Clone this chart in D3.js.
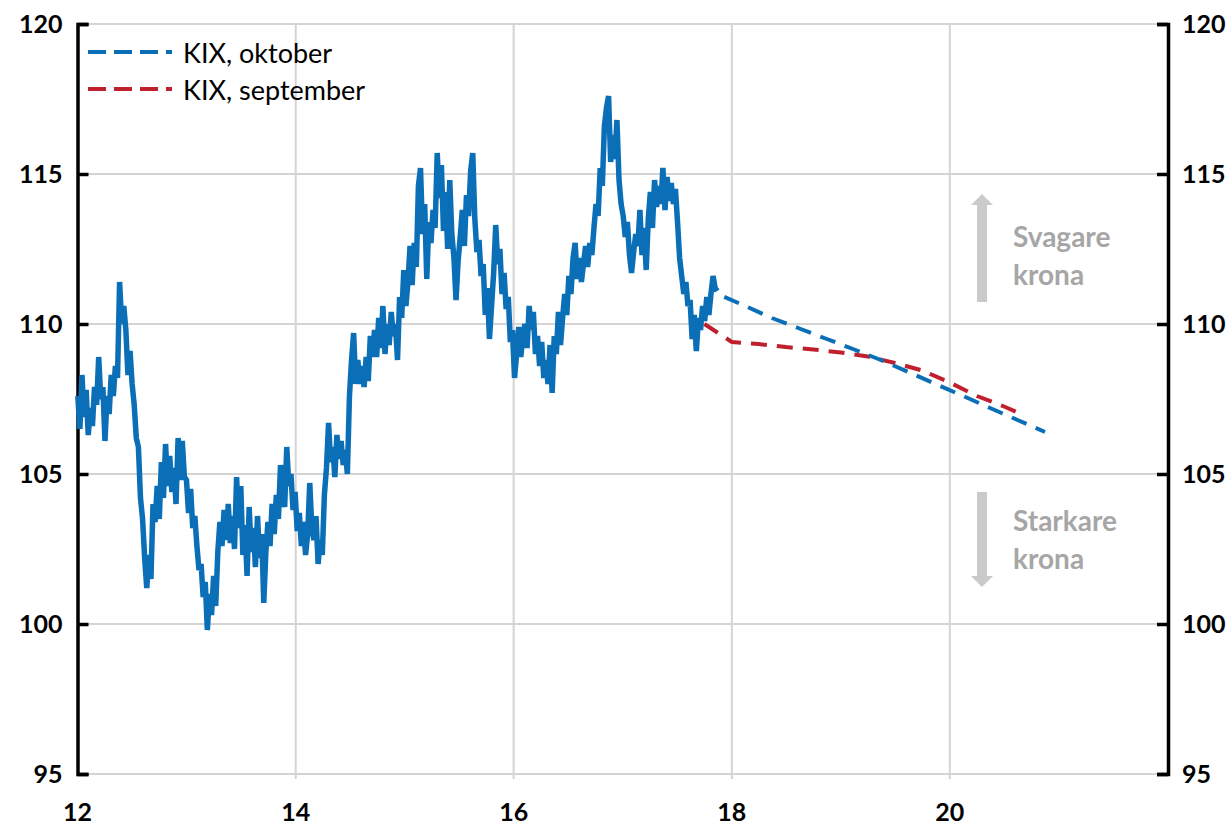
<!DOCTYPE html>
<html>
<head>
<meta charset="utf-8">
<script src="https://cdn.jsdelivr.net/npm/d3@7"></script>
<style>
  html, body { margin: 0; padding: 0; background: #ffffff; }
  svg { display: block; }
</style>
</head>
<body>
<svg id="chart" width="1232" height="825"></svg>
<script>
// ---------------- DATA ----------------
// Weekly KIX index, starting first week of 2012
const kixStart = "2012-01-02";
const kixValues = [
  107.6,106.5,108.3,106.9,107.8,106.3,107.2,106.6,107.9,107.3,
  108.9,107.5,107.9,106.1,107.6,107.0,108.3,107.6,108.6,108.2,
  111.4,110.0,110.6,109.8,108.3,109.1,108.0,107.3,106.2,105.9,
  104.2,103.5,102.2,101.2,102.3,101.5,104.0,103.4,104.6,103.5,
  105.4,104.2,106.0,104.6,105.6,104.4,105.2,104.0,106.2,104.8,
  106.1,104.9,104.8,103.7,104.5,103.2,103.6,102.6,101.8,102.0,
  100.9,101.4,99.8,101.0,100.3,101.6,100.6,102.4,103.4,102.6,
  103.8,102.8,104.0,102.7,103.6,102.5,104.9,103.2,104.6,102.3,
  103.3,101.6,103.9,102.4,103.2,101.9,103.6,102.2,103.0,100.7,
  102.4,103.4,102.6,104.0,103.0,104.3,103.5,105.3,104.2,103.9,
  105.9,104.6,105.0,103.8,104.4,103.1,103.7,102.6,103.4,102.3,
  103.0,104.7,103.2,102.8,103.6,102.0,102.8,102.3,104.3,105.2,
  106.7,105.4,105.9,104.9,106.3,105.5,106.1,105.3,105.8,105.0,
  107.6,108.8,109.7,108.0,108.8,108.0,108.6,107.9,108.9,108.1,
  109.6,108.9,109.8,108.9,110.2,109.2,110.6,109.0,110.0,109.3,
  110.4,109.6,110.0,108.8,110.9,110.2,111.8,110.6,111.4,112.6,
  111.3,112.7,111.9,114.6,115.2,113.0,114.0,111.5,113.4,112.7,
  113.8,113.2,115.7,114.2,115.3,113.1,114.4,112.5,114.8,113.0,
  112.2,110.8,112.1,112.9,113.8,112.6,114.3,113.6,115.1,115.7,
  113.5,112.4,112.8,111.6,112.0,110.3,111.2,109.5,110.6,111.7,
  113.3,112.0,112.5,111.0,111.7,110.5,110.9,109.4,109.8,108.2,
  109.0,109.9,108.9,109.6,110.0,109.2,110.6,109.8,110.4,109.0,
  109.6,108.6,109.4,108.2,108.8,108.0,109.3,107.7,109.6,
  109.0,110.4,109.3,110.2,111.0,110.3,111.6,111.0,112.2,112.7,
  111.5,112.2,111.4,112.0,112.6,111.9,112.7,112.3,113.2,
  114.0,113.6,115.2,114.6,116.6,117.2,117.6,115.4,116.3,115.5,
  116.8,114.8,114.0,113.6,112.9,113.4,112.3,111.7,112.4,113.0,
  112.6,113.8,112.3,113.2,111.8,113.5,114.4,113.2,114.8,113.9,
  114.6,114.0,115.2,113.8,114.9,114.1,114.7,114.0,114.5,113.4,
  112.2,111.6,111.0,111.4,110.6,110.8,109.5,110.3,109.1,110.2,
  109.8,110.6,110.1,110.9,110.3,111.0,111.6,111.2,111.1
];

// KIX forecast, October (quarterly)
const oktDates = ["2017-11-15","2018-02-15","2018-05-15","2018-08-15","2018-11-15","2019-02-15",
                  "2019-05-15","2019-08-15","2019-11-15","2020-02-15","2020-05-15","2020-08-15","2020-11-15"];
const oktValues = [111.0,110.6,110.2,109.85,109.5,109.15,108.8,108.4,108.0,107.6,107.2,106.8,106.4];

// KIX forecast, September (quarterly)
const sepDates = ["2017-10-01","2018-01-01","2018-04-01","2018-07-01","2018-10-01","2019-01-01",
                  "2019-04-01","2019-07-01","2019-10-01","2020-01-01","2020-04-01","2020-07-01","2020-08-15"];
const sepValues = [110.0,109.4,109.33,109.23,109.15,109.05,108.92,108.7,108.45,108.05,107.6,107.25,107.05];

const yTicks = [95,100,105,110,115,120];
const xTickYears = [2012,2014,2016,2018,2020];
const xGridYears = [2014,2016,2018,2020];
const legendLabels = ["KIX, oktober","KIX, september"];
const annotUp = ["Svagare","krona"];
const annotDown = ["Starkare","krona"];

// ---------------- CHART ----------------
const svg = d3.select("#chart");
const parse = d3.timeParse("%Y-%m-%d");
const blue = "#0b6fb8", red = "#c0202e";
const gridCol = "#d4d4d4", annotCol = "#a6a6a6", arrowCol = "#cacaca";
const font = "Lato, 'Open Sans', sans-serif";

const x = d3.scaleTime()
  .domain([new Date(2012,0,1), new Date(2022,0,1)])
  .range([77.5, 1168]);
const y = d3.scaleLinear().domain([95,120]).range([774,24]);

const start = parse(kixStart);
const kix = kixValues.map((v,i) => ({d: d3.timeDay.offset(start, 7*i), v}));
const okt = oktDates.map((s,i) => ({d: parse(s), v: oktValues[i]}));
const sep = sepDates.map((s,i) => ({d: parse(s), v: sepValues[i]}));

// gridlines
svg.append("g").selectAll("line").data(yTicks).join("line")
  .attr("x1", x.range()[0]).attr("x2", x.range()[1])
  .attr("y1", d => y(d)).attr("y2", d => y(d))
  .attr("stroke", gridCol).attr("stroke-width", 2);
svg.append("g").selectAll("line").data(xGridYears).join("line")
  .attr("x1", d => x(new Date(d,0,1))).attr("x2", d => x(new Date(d,0,1)))
  .attr("y1", y(120)).attr("y2", y(95) + 5)
  .attr("stroke", gridCol).attr("stroke-width", 2);

// x labels
svg.append("g").selectAll("text").data(xTickYears).join("text")
  .attr("x", d => x(new Date(d,0,1)))
  .attr("y", 821)
  .attr("text-anchor", "middle")
  .attr("font-family", font).attr("font-weight", 700).attr("font-size", 25)
  .attr("fill", "#000")
  .text(d => d3.timeFormat("%y")(new Date(d,0,1)));

// left axis
const yAxisL = d3.axisLeft(y).tickValues(yTicks).tickSize(-11).tickPadding(15).tickFormat(d3.format("d"));
const gL = svg.append("g").attr("transform", `translate(${x.range()[0]},0)`).call(yAxisL);
// right axis
const yAxisR = d3.axisRight(y).tickValues(yTicks).tickSize(-11).tickPadding(14).tickFormat(d3.format("d"));
const gR = svg.append("g").attr("transform", `translate(${x.range()[1]},0)`).call(yAxisR);
[gL, gR].forEach(g => {
  g.select(".domain").attr("stroke", "#000").attr("stroke-width", 3.5);
  g.selectAll(".tick line").attr("stroke", "#000").attr("stroke-width", 3.5);
  g.selectAll(".tick text").attr("font-family", font).attr("font-weight", 700)
    .attr("font-size", 25).attr("fill", "#000");
});

// main series
const line = d3.line().x(d => x(d.d)).y(d => y(d.v));
svg.append("path").datum(kix).attr("d", line)
  .attr("fill", "none").attr("stroke", blue).attr("stroke-width", 5.5)
  .attr("stroke-linejoin", "miter").attr("stroke-miterlimit", 2);

// forecasts
svg.append("path").datum(sep).attr("d", line)
  .attr("fill", "none").attr("stroke", red).attr("stroke-width", 4)
  .attr("stroke-dasharray", "16,10");
svg.append("path").datum(okt).attr("d", line)
  .attr("fill", "none").attr("stroke", blue).attr("stroke-width", 4)
  .attr("stroke-dasharray", "16,10").attr("stroke-dashoffset", 19);

// legend
const leg = svg.append("g");
[blue, red].forEach((c,i) => {
  const ly = 52 + i*37;
  leg.append("line").attr("x1", 88).attr("x2", 172).attr("y1", ly).attr("y2", ly)
    .attr("stroke", c).attr("stroke-width", 4).attr("stroke-dasharray", "18,8");
  leg.append("text").attr("x", 183).attr("y", ly).attr("dominant-baseline", "central")
    .attr("font-family", font).attr("font-size", 27).attr("fill", "#000")
    .text(legendLabels[i]);
});

// annotation arrows
const ax = 982;
function arrow(tipY, tailY) {
  const dir = tailY > tipY ? 1 : -1;
  const headLen = 11, headW = 11, shaftW = 5;
  const hb = tipY + dir*headLen;
  const p = [
    [ax, tipY], [ax+headW, hb], [ax+shaftW, hb], [ax+shaftW, tailY],
    [ax-shaftW, tailY], [ax-shaftW, hb], [ax-headW, hb]
  ];
  svg.append("path").attr("d", "M" + p.map(q => q.join(",")).join("L") + "Z")
    .attr("fill", arrowCol);
}
arrow(194, 302);
arrow(587, 492);

function annot(lines, cy) {
  lines.forEach((t,i) => {
    svg.append("text").attr("x", 1013).attr("y", cy + i*38)
      .attr("dominant-baseline", "central")
      .attr("font-family", font).attr("font-weight", 700).attr("font-size", 28)
      .attr("fill", annotCol).text(t);
  });
}
annot(annotUp, 236);
annot(annotDown, 520);
</script>
</body>
</html>
